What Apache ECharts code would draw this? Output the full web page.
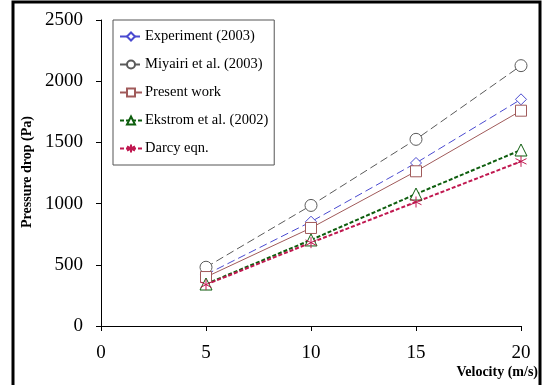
<!DOCTYPE html>
<html>
<head>
<meta charset="utf-8">
<script src="https://cdn.jsdelivr.net/npm/echarts@6/dist/echarts.min.js"></script>
<style>
  html, body { margin: 0; padding: 0; background: #fff; }
  #chart { width: 542px; height: 385px; }
</style>
</head>
<body>
<div id="chart"></div>
<script>
const velocity = [5, 10, 15, 20];
const experiment = [420, 852, 1332, 1852];
const miyairi = [480, 985, 1525, 2127];
const presentWork = [400, 801, 1264, 1759];
const ekstrom = [343, 703, 1078, 1438];
const darcy = [338, 681, 1013, 1345];
const yTicks = [0, 500, 1000, 1500, 2000, 2500];

const serif = '"Liberation Serif", "Times New Roman", serif';
const asterisk = 'path://M0,-6L0,6M-5.2,-3L5.2,3M-5.2,3L5.2,-3';

function pts(vals) {
  return velocity.map((v, i) => [v, vals[i]]);
}

function mkSeries(name, vals, color, lineType, width, symbol, size) {
  return {
    name: name,
    type: 'line',
    data: pts(vals),
    symbol: symbol,
    symbolSize: size,
    showAllSymbol: true,
    lineStyle: { color: color, width: width, type: lineType },
    itemStyle: { color: '#fff', borderColor: color, borderWidth: 1 },
    emphasis: { disabled: true }
  };
}

const chart = echarts.init(document.getElementById('chart'));
chart.setOption({
  animation: false,
  grid: { left: 101, top: 20, right: 21, bottom: 59 },
  legend: {
    orient: 'vertical',
    left: 113,
    top: 20,
    padding: [9, 6, 9, 6],
    itemGap: 13,
    itemWidth: 22,
    itemHeight: 10,
    borderColor: '#555',
    borderWidth: 1,
    textStyle: { fontFamily: serif, fontSize: 14.5, color: '#000', padding: [0, 6, 0, -2] },
    data: ['Experiment (2003)', 'Miyairi et al. (2003)', 'Present work', 'Ekstrom et al. (2002)', 'Darcy eqn.']
  },
  xAxis: {
    type: 'value',
    min: 0,
    max: 20,
    interval: 5,
    axisLine: { lineStyle: { color: '#000', width: 1 } },
    axisTick: { show: true, length: 5, lineStyle: { color: '#000' } },
    axisLabel: { fontFamily: serif, fontSize: 19, color: '#000', margin: 18 },
    splitLine: { show: false }
  },
  yAxis: {
    type: 'value',
    min: 0,
    max: 2500,
    interval: 500,
    axisLine: { show: true, lineStyle: { color: '#000', width: 1 } },
    axisTick: { show: true, length: 5, lineStyle: { color: '#000' } },
    axisLabel: {
      fontFamily: serif, fontSize: 19, color: '#000', margin: 18,
      formatter: v => yTicks.includes(v) ? String(v) : ''
    },
    splitLine: { show: false }
  },
  graphic: [
    {
      type: 'rect',
      shape: { x: 13, y: 2, width: 527, height: 420 },
      style: { fill: 'none', stroke: '#000', lineWidth: 3 },
      silent: true
    },
    {
      type: 'text',
      x: 27,
      y: 172,
      rotation: Math.PI / 2,
      style: {
        text: 'Pressure drop (Pa)',
        font: 'bold 14px ' + serif,
        fill: '#000',
        align: 'center',
        verticalAlign: 'middle'
      }
    },
    {
      type: 'text',
      x: 538,
      y: 372,
      style: {
        text: 'Velocity (m/s)',
        font: 'bold 14px ' + serif,
        fill: '#000',
        align: 'right',
        verticalAlign: 'middle'
      }
    }
  ],
  series: [
    mkSeries('Experiment (2003)', experiment, '#4a4ad0', [8, 4], 1, 'diamond', 11),
    mkSeries('Miyairi et al. (2003)', miyairi, '#5a5a5a', [8, 4], 1, 'circle', 12),
    mkSeries('Present work', presentWork, '#a05a5a', 'solid', 1, 'rect', 11),
    mkSeries('Ekstrom et al. (2002)', ekstrom, '#0e5e0e', [4, 2], 2, 'triangle', 12),
    mkSeries('Darcy eqn.', darcy, '#c01850', [4, 2], 2, asterisk, 11)
  ]
});
</script>
</body>
</html>
